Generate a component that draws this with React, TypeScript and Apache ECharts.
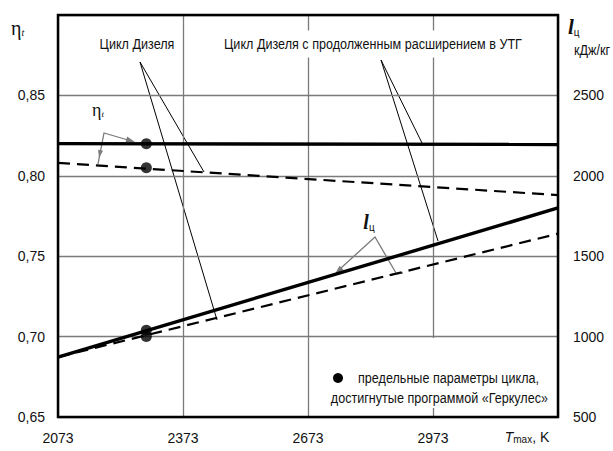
import React, { useEffect, useRef } from "react";
import * as echarts from "echarts";

// Maximum cycle temperature, K (line end points)
const T_RANGE = [2073, 3273];
// Thermal efficiency η_t
const ETA_EXTENDED = [0.82, 0.8195];
const ETA_DIESEL = [0.808, 0.788];
// Specific cycle work l_ц, kJ/kg
const WORK_EXTENDED = [873, 1800];
const WORK_DIESEL = [873, 1640];
// Limit cycle parameters reached by the "Геркулес" program
const LIMIT_T = 2285;
const LIMIT_ETA = [0.82, 0.805];
const LIMIT_WORK = [1040, 1000];

// Tick labels
const X_LABELS = [2073, 2373, 2673, 2973];
const ETA_LABELS = [0.65, 0.7, 0.75, 0.8, 0.85];
const WORK_LABELS = [500, 1000, 1500, 2000, 2500];

const SANS = "'Liberation Sans', Arial, sans-serif";
const SERIF = "'Liberation Serif', 'Times New Roman', serif";
const GREY = "#7a7a7a";
// condensed look for captions: regular sans squeezed horizontally
const SQUEEZE = 0.84;

const pairs = (xs: number[], ys: number[]) => xs.map((x, i) => [x, ys[i]]);

// small filled arrow head pointing from (fx,fy) to (tx,ty)
function arrowHead(fx: number, fy: number, tx: number, ty: number, len = 9, half = 3) {
  const dx = tx - fx;
  const dy = ty - fy;
  const d = Math.hypot(dx, dy);
  const ux = dx / d;
  const uy = dy / d;
  const bx = tx - ux * len;
  const by = ty - uy * len;
  return {
    type: "polygon",
    shape: {
      points: [
        [tx, ty],
        [bx - uy * half, by + ux * half],
        [bx + uy * half, by - ux * half],
      ],
    },
    style: { fill: GREY },
  };
}

const seg = (x1: number, y1: number, x2: number, y2: number, stroke = "#000", lineWidth = 1) => ({
  type: "line",
  shape: { x1, y1, x2, y2 },
  style: { stroke, lineWidth },
});

const narrowText = (
  text: string,
  x: number,
  y: number,
  align: "left" | "center" | "right",
  extra: Record<string, unknown> = {},
  z = 41
) => ({
  type: "text",
  x,
  y,
  z,
  scaleX: SQUEEZE,
  style: {
    text,
    font: `15px ${SANS}`,
    fill: "#111",
    align,
    verticalAlign: "middle",
    ...extra,
  },
});

export default function App() {
  const ref = useRef<HTMLDivElement>(null);

  useEffect(() => {
    if (!ref.current) return;
    const chart = echarts.init(ref.current, null, { renderer: "svg" });

    const fmtEta = (v: number) =>
      ETA_LABELS.some((t) => Math.abs(t - v) < 1e-6) ? v.toFixed(2).replace(".", ",") : "";
    const fmtWork = (v: number) =>
      WORK_LABELS.some((t) => Math.abs(t - v) < 1e-6) ? String(Math.round(v)) : "";
    const fmtX = (v: number) =>
      X_LABELS.some((t) => Math.abs(t - v) < 1e-6) ? String(Math.round(v)) : "";

    const tickLabel = {
      fontSize: 14,
      fontFamily: SANS,
      color: "#111",
    };

    chart.setOption({
      animation: false,
      backgroundColor: "#fff",
      grid: {
        left: 58,
        right: 55,
        top: 15,
        bottom: 34,
        show: true,
        borderColor: "#000",
        borderWidth: 2.5,
        backgroundColor: "transparent",
        z: 3,
      },
      xAxis: {
        type: "value",
        min: T_RANGE[0],
        max: T_RANGE[1],
        interval: 300,
        axisLine: { show: false },
        axisTick: { show: false },
        axisLabel: { formatter: fmtX, margin: 14, ...tickLabel },
        splitLine: { show: true, lineStyle: { color: GREY, width: 1.3 } },
      },
      yAxis: [
        {
          type: "value",
          min: 0.65,
          max: 0.9,
          interval: 0.05,
          axisLine: { show: false },
          axisTick: { show: false },
          axisLabel: { formatter: fmtEta, margin: 13, ...tickLabel },
          splitLine: { show: true, lineStyle: { color: GREY, width: 1.3 } },
        },
        {
          type: "value",
          min: 500,
          max: 3000,
          interval: 500,
          position: "right",
          axisLine: { show: false },
          axisTick: { show: false },
          axisLabel: { formatter: fmtWork, margin: 15, ...tickLabel },
          splitLine: { show: false },
        },
      ],
      series: [
        {
          type: "line",
          yAxisIndex: 0,
          data: pairs(T_RANGE, ETA_EXTENDED),
          showSymbol: false,
          lineStyle: { color: "#000", width: 3.4 },
          z: 5,
        },
        {
          type: "line",
          yAxisIndex: 0,
          data: pairs(T_RANGE, ETA_DIESEL),
          showSymbol: false,
          lineStyle: { color: "#000", width: 2.2, type: [12, 7] },
          z: 5,
        },
        {
          type: "line",
          yAxisIndex: 1,
          data: pairs(T_RANGE, WORK_EXTENDED),
          showSymbol: false,
          lineStyle: { color: "#000", width: 3.4 },
          z: 5,
        },
        {
          type: "line",
          yAxisIndex: 1,
          data: pairs(T_RANGE, WORK_DIESEL),
          showSymbol: false,
          lineStyle: { color: "#000", width: 2.2, type: [12, 7] },
          z: 5,
        },
        {
          type: "scatter",
          yAxisIndex: 0,
          data: LIMIT_ETA.map((v) => [LIMIT_T, v]),
          symbolSize: 11,
          itemStyle: { color: "#000" },
          z: 6,
        },
        {
          type: "scatter",
          yAxisIndex: 1,
          data: LIMIT_WORK.map((v) => [LIMIT_T, v]),
          symbolSize: 11,
          itemStyle: { color: "#000" },
          z: 6,
        },
      ],
      graphic: [
        // axis names
        {
          type: "text",
          x: 11,
          y: 28,
          style: {
            text: "{e|η}{s|t}",
            verticalAlign: "middle",
            rich: {
              e: { font: `20px ${SERIF}`, fill: "#111" },
              s: { font: `italic 10px ${SERIF}`, fill: "#111", padding: [9, 0, 0, 0] },
            },
          },
        },
        {
          type: "text",
          x: 568,
          y: 27,
          style: {
            text: "{l|l}{s|ц}",
            verticalAlign: "middle",
            rich: {
              l: { font: `italic bold 21px ${SERIF}`, fill: "#111" },
              s: { font: `10px ${SANS}`, fill: "#111", padding: [10, 0, 0, 0] },
            },
          },
        },
        narrowText("кДж/кг", 592, 50, "center", {}, 10),
        {
          type: "text",
          x: 527,
          y: 437,
          style: {
            text: "{t|T}{s|max}{n|, K}",
            align: "center",
            verticalAlign: "middle",
            rich: {
              t: { font: `italic 14px ${SANS}`, fill: "#111" },
              s: { font: `10px ${SANS}`, fill: "#111", padding: [5, 0, 0, 0] },
              n: { font: `14px ${SANS}`, fill: "#111" },
            },
          },
        },
        // curve captions with leaders
        narrowText("Цикл Дизеля", 137, 44, "center", {
          backgroundColor: "#fff",
          padding: [6, 6, 6, 6],
        }, 50),
        narrowText("Цикл Дизеля с продолженным расширением в УТГ", 373, 44, "center", {
          backgroundColor: "#fff",
          padding: [6, 6, 6, 6],
        }, 50),
        seg(140, 62, 204, 172),
        seg(140, 62, 217, 320),
        seg(381, 60, 422, 143),
        seg(381, 60, 438, 241),
        // η_t marker
        {
          type: "text",
          x: 98,
          y: 110,
          style: {
            text: "{e|η}{s|t}",
            align: "center",
            verticalAlign: "middle",
            rich: {
              e: { font: `18px ${SERIF}`, fill: "#111" },
              s: { font: `italic 9px ${SERIF}`, fill: "#111", padding: [8, 0, 0, 0] },
            },
          },
        },
        {
          type: "polyline",
          shape: { points: [[98, 164], [104, 133], [128, 140]] },
          style: { stroke: GREY, lineWidth: 1.3, fill: null },
        },
        arrowHead(104, 133, 135, 142),
        arrowHead(104, 133, 99, 158, 8, 2.5),
        // l_ц marker
        {
          type: "text",
          x: 369,
          y: 222,
          style: {
            text: "{l|l}{s|ц}",
            align: "center",
            verticalAlign: "middle",
            rich: {
              l: { font: `italic bold 20px ${SERIF}`, fill: "#111" },
              s: { font: `10px ${SANS}`, fill: "#111", padding: [10, 0, 0, 0] },
            },
          },
        },
        {
          type: "polyline",
          shape: { points: [[341, 268], [375, 237], [396, 273]] },
          style: { stroke: GREY, lineWidth: 1.3, fill: null },
        },
        arrowHead(375, 237, 335, 274),
        seg(389, 275, 403, 273, GREY, 1.5),
        // limit-point legend
        {
          type: "rect",
          shape: { x: 326, y: 338, width: 228, height: 70 },
          style: { fill: "#fff" },
          z: 40,
        },
        {
          type: "circle",
          shape: { cx: 338, cy: 378, r: 5 },
          style: { fill: "#000" },
          z: 41,
        },
        narrowText("предельные параметры цикла,", 358, 378, "left"),
        narrowText("достигнутые программой «Геркулес»", 548, 398, "right"),
      ],
    });

    return () => chart.dispose();
  }, []);

  return (
    <div
      ref={ref}
      style={{ position: "fixed", left: 0, top: 0, width: 613, height: 451 }}
    />
  );
}
